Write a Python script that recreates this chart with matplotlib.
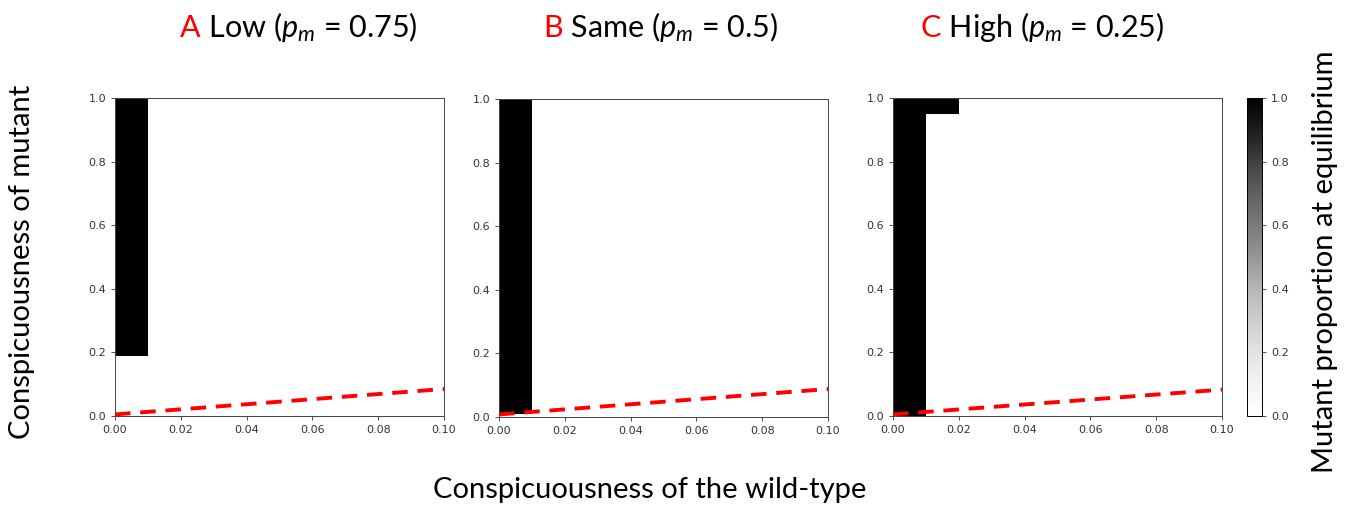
import matplotlib
matplotlib.use("Agg")
import matplotlib.pyplot as plt
import numpy as np

# ---- data ----
panel_letters = ["A", "B", "C"]
panel_titles = [" Low ($p_m$ = 0.75)", " Same ($p_m$ = 0.5)", " High ($p_m$ = 0.25)"]

# cell edges (conspicuousness grid) and equilibrium mutant proportion per cell
x_edges_A = [0.0, 0.01, 0.1]
y_edges_A = [0.0, 0.19, 1.0]
vals_A = [[0, 0],
          [1, 0]]

x_edges_B = [0.0, 0.01, 0.1]
y_edges_B = [0.0, 0.01, 1.0]
vals_B = [[0, 0],
          [1, 0]]

x_edges_C = [0.0, 0.01, 0.02, 0.1]
y_edges_C = [0.0, 0.95, 1.0]
vals_C = [[1, 0, 0],
          [1, 1, 0]]

# threshold line (red dashed)
line_x = [0.0, 0.1]
line_y_A = [0.005, 0.085]
line_y_B = [0.008, 0.088]
line_y_C = [0.005, 0.083]

xticks = [0.0, 0.02, 0.04, 0.06, 0.08, 0.10]
yticks = [0.0, 0.2, 0.4, 0.6, 0.8, 1.0]

plt.rcParams['mathtext.fontset'] = 'custom'
plt.rcParams['mathtext.it'] = 'Lato:italic'
plt.rcParams['mathtext.rm'] = 'Lato'

W, H = 1357, 509
fig = plt.figure(figsize=(W / 100, H / 100), dpi=100)

def fig_rect(l, r, t, b):
    return [l / W, 1 - b / H, (r - l) / W, (b - t) / H]

rects = [fig_rect(115, 444, 98, 416), fig_rect(499, 828, 99, 417), fig_rect(893, 1222, 98, 416)]
data = [(x_edges_A, y_edges_A, vals_A, line_y_A),
        (x_edges_B, y_edges_B, vals_B, line_y_B),
        (x_edges_C, y_edges_C, vals_C, line_y_C)]
title_left = [180, 543, 921]
FS = 21
TITLE_FS = 22
TFS = 8

renderer = fig.canvas.get_renderer()
mesh = None
for i in range(3):
    ax = fig.add_axes(rects[i])
    xe, ye, v, ly = data[i]
    mesh = ax.pcolormesh(xe, ye, np.array(v), cmap='Greys', vmin=0, vmax=1)
    ax.plot(line_x, ly, color='red', linestyle=(0, (4, 2.5)), linewidth=2.8, zorder=3)
    ax.set_xlim(0, 0.1)
    ax.set_ylim(0, 1)
    ax.set_xticks(xticks)
    ax.set_yticks(yticks)
    ax.set_xticklabels(["%.2f" % t for t in xticks])
    ax.set_yticklabels(["%.1f" % t for t in yticks])
    ax.tick_params(labelsize=TFS, colors='#333333', length=3, width=0.6)
    for s in ax.spines.values():
        s.set_linewidth(0.7)
        s.set_color('#444444')
    t = fig.text(title_left[i] / W, 1 - 37 / H, panel_letters[i], color='red',
                 fontsize=TITLE_FS, family='Lato', va='baseline', ha='left')
    wpx = t.get_window_extent(renderer=renderer).width
    fig.text((title_left[i] + wpx) / W, 1 - 37 / H, panel_titles[i], color='black',
             fontsize=TITLE_FS, family='Lato', va='baseline', ha='left')

cax = fig.add_axes(fig_rect(1247, 1262, 98, 416))
cb = fig.colorbar(mesh, cax=cax, ticks=yticks)
cb.ax.set_yticklabels(["%.1f" % t for t in yticks])
cb.ax.tick_params(labelsize=TFS, colors='#333333', length=3, width=0.6)
cb.outline.set_linewidth(0.7)

fig.text(22 / W, 1 - 262 / H, "Conspicuousness of mutant", rotation=90, fontsize=FS,
         family='Lato', ha='center', va='center')
fig.text(650 / W, 1 - 490 / H, "Conspicuousness of the wild-type", fontsize=FS,
         family='Lato', ha='center', va='center')
fig.text(1325 / W, 1 - 262 / H, "Mutant proportion at equilibrium", rotation=90, fontsize=FS,
         family='Lato', ha='center', va='center')

fig.savefig("out.png", dpi=100)
